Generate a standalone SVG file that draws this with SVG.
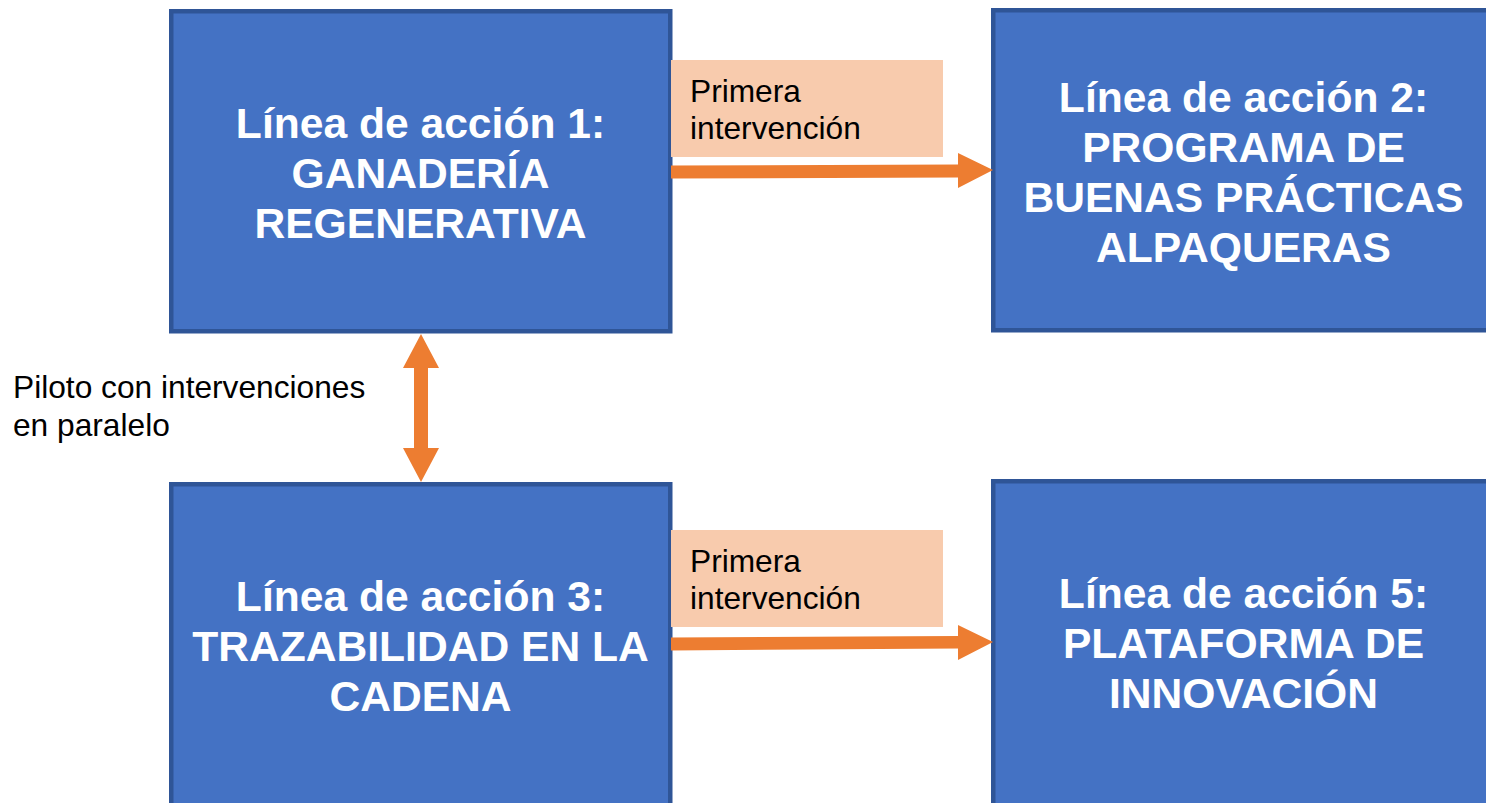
<svg xmlns="http://www.w3.org/2000/svg" width="1486" height="803" viewBox="0 0 1486 803">
<style>
.box{fill:#4472C4;stroke:#2F5597;stroke-width:4.5}
.title{font-family:"Liberation Sans",Arial,sans-serif;font-weight:bold;font-size:42.6px;fill:#FFFFFF;text-anchor:middle}
.lbl{fill:#F8CBAD}
.txt{font-family:"Liberation Sans",Arial,sans-serif;font-size:31.7px;fill:#000000}
.arr{fill:#ED7D31}
</style>
<rect width="1486" height="803" fill="#FFFFFF"/>
<g id="node1">
<rect class="box" x="171.25" y="11.25" width="499" height="320"/>
<text class="title"><tspan x="420.5" y="138">Línea de acción 1:</tspan><tspan x="420.5" y="188">GANADERÍA</tspan><tspan x="420.5" y="238">REGENERATIVA</tspan></text>
</g>
<g id="node2">
<rect class="box" x="993.25" y="10.25" width="505" height="320"/>
<text class="title"><tspan x="1243.5" y="112">Línea de acción 2:</tspan><tspan x="1243.5" y="162">PROGRAMA DE</tspan><tspan x="1243.5" y="212">BUENAS PRÁCTICAS</tspan><tspan x="1243.5" y="262">ALPAQUERAS</tspan></text>
</g>
<g id="node3">
<rect class="box" x="171.25" y="484.25" width="499" height="340"/>
<text class="title"><tspan x="420.5" y="611">Línea de acción 3:</tspan><tspan x="420.5" y="661">TRAZABILIDAD EN LA</tspan><tspan x="420.5" y="711">CADENA</tspan></text>
</g>
<g id="node4">
<rect class="box" x="993.25" y="481.25" width="505" height="340"/>
<text class="title"><tspan x="1243.5" y="608">Línea de acción 5:</tspan><tspan x="1243.5" y="658">PLATAFORMA DE</tspan><tspan x="1243.5" y="708">INNOVACIÓN</tspan></text>
</g>
<g id="connectors">
<polygon class="arr" points="671,165.5 958,164.5 958,153 993,170 958,188 958,177.5 671,178.5"/>
<polygon class="arr" points="671,637.5 958,636 958,625 993,642 958,660 958,648.5 671,650.5"/>
<polygon class="arr" points="421,334 439,368 428,368 428,448 439,448 421,482 403,448 414,448 414,368 403,368"/>
</g>
<g id="label1">
<rect class="lbl" x="671" y="60" width="272" height="97"/>
<text class="txt"><tspan x="690" y="102">Primera</tspan><tspan x="690" y="139">intervención</tspan></text>
</g>
<g id="label2">
<rect class="lbl" x="671" y="530" width="272" height="97"/>
<text class="txt"><tspan x="690" y="572">Primera</tspan><tspan x="690" y="609">intervención</tspan></text>
</g>
<g id="label3">
<text class="txt"><tspan x="13" y="398">Piloto con intervenciones</tspan><tspan x="13" y="436">en paralelo</tspan></text>
</g>
</svg>
